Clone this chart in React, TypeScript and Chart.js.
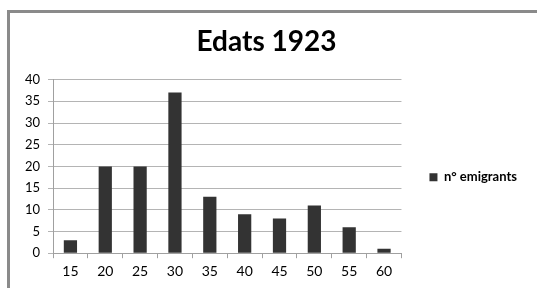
import React, { useEffect, useRef } from "react";
import { Chart, registerables } from "chart.js";

Chart.register(...registerables);

const categories = ["15", "20", "25", "30", "35", "40", "45", "50", "55", "60"];
const emigrants = [3, 20, 20, 37, 13, 9, 8, 11, 6, 1];
const seriesLabel = "n° emigrants";
const chartTitle = "Edats 1923";

export default function App() {
  const ref = useRef<HTMLCanvasElement | null>(null);

  useEffect(() => {
    if (!ref.current) return;
    const chart = new Chart(ref.current, {
      type: "bar",
      data: {
        labels: categories,
        datasets: [
          {
            label: seriesLabel,
            data: emigrants,
            backgroundColor: "#333333",
            borderWidth: 0,
            barPercentage: 0.38,
            categoryPercentage: 1,
          },
        ],
      },
      options: {
        responsive: false,
        animation: false,
        layout: { padding: { left: 6, top: 20, bottom: 3, right: 10 } },
        plugins: {
          tooltip: { enabled: false },
          title: {
            display: true,
            text: chartTitle,
            color: "#000",
            font: { family: "Lato", size: 28, weight: "bold", lineHeight: 1.2 },
            padding: { top: 5, bottom: 21 },
          },
          legend: {
            display: true,
            position: "right",
            title: {
              display: true,
              text: " ",
              padding: { top: 20, bottom: 20 },
              font: { size: 8, lineHeight: 1.2 },
            },
            labels: {
              boxWidth: 8,
              boxHeight: 8,
              padding: 28,
              color: "#000",
              font: { family: "Lato", size: 13, weight: "bold" },
            },
          },
        },
        scales: {
          x: {
            grid: {
              display: true,
              drawOnChartArea: false,
              drawTicks: true,
              tickLength: 5,
              color: "#a0a0a0",
              offset: true,
            },
            border: { display: true, color: "#a0a0a0" },
            ticks: {
              color: "#000",
              padding: 5,
              font: { family: "Lato", size: 14 },
            },
          },
          y: {
            min: 0,
            max: 40,
            afterFit: (scale: any) => {
              scale.width = 47;
            },
            ticks: {
              stepSize: 5,
              color: "#000",
              padding: 8,
              font: { family: "Lato", size: 13 },
            },
            grid: {
              color: "#b4b4b4",
              tickLength: 5,
              drawTicks: true,
            },
            border: { display: true, color: "#a0a0a0" },
          },
        },
      },
    });
    return () => chart.destroy();
  }, []);

  return (
    <div
      style={{
        position: "fixed",
        left: 0,
        top: 0,
        width: 537,
        height: 288,
        overflow: "hidden",
        background: "#fff",
      }}
    >
      <div
        style={{
          position: "absolute",
          left: 7,
          top: 10,
          width: 620,
          height: 400,
          border: "3px solid #8a8a8a",
          boxSizing: "border-box",
        }}
      />
      <canvas
        ref={ref}
        width={537}
        height={288}
        style={{ position: "absolute", left: 0, top: 0, width: 537, height: 288 }}
      />
    </div>
  );
}
